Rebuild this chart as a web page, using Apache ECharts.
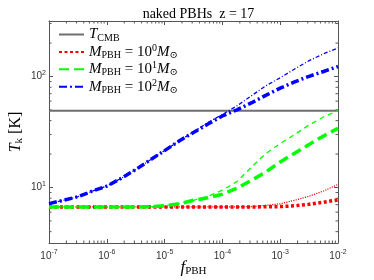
<!DOCTYPE html>
<html><head><meta charset="utf-8">
<script src="https://cdn.jsdelivr.net/npm/echarts@6/dist/echarts.min.js"></script>
<style>html,body{margin:0;padding:0;background:#fff}#c{width:374px;height:280px}</style>
</head><body><div id="c"></div><script>
// ---- data ----
const fPBH = [1e-7, 1.78e-7, 3.16e-7, 5.62e-7, 1e-6, 1.78e-6, 3.16e-6, 5.62e-6, 1e-5, 1.78e-5, 3.16e-5,
              5.62e-5, 1e-4, 1.78e-4, 3.16e-4, 5.62e-4, 1e-3, 1.78e-3, 3.16e-3, 5.62e-3, 1e-2];
const T_CMB = 49.05;
const m0Thick = [6.68, 6.68, 6.68, 6.68, 6.68, 6.68, 6.68, 6.68, 6.68, 6.68, 6.68, 6.68, 6.68, 6.68, 6.68, 6.70, 6.73, 6.84, 7.06, 7.36, 7.74];
const m0Thin  = [6.68, 6.68, 6.68, 6.68, 6.68, 6.68, 6.68, 6.68, 6.68, 6.68, 6.68, 6.68, 6.68, 6.68, 6.72, 6.90, 7.13, 7.67, 8.34, 9.29, 10.66];
const m1Thick = [6.68, 6.68, 6.68, 6.68, 6.68, 6.68, 6.68, 6.70, 6.84, 7.13, 7.67, 8.09, 8.70, 9.86, 11.6, 13.8, 17.0, 20.4, 24.4, 29.1, 34.1];
const m1Thin  = [6.68, 6.68, 6.68, 6.68, 6.68, 6.68, 6.68, 6.70, 6.84, 7.13, 7.67, 8.33, 9.46, 11.3, 15.2, 20.2, 24.9, 30.0, 36.6, 43.2, 49.3];
const m2Thick = [7.16, 7.67, 8.26, 9.27, 10.3, 12.1, 14.5, 17.7, 21.5, 26.2, 31.3, 37.3, 44.1, 50.0, 57.8, 67.6, 78.5, 89.6, 100.4, 111, 123];
const m2Thin  = [7.16, 7.67, 8.26, 9.27, 10.3, 12.1, 14.5, 17.7, 21.5, 26.3, 31.6, 38.5, 45.5, 54.3, 66.9, 82.4, 97.3, 117, 139, 160, 181];
const X_MIN = 1e-7, X_MAX = 1e-2, Y_MIN = 3.1623, Y_MAX = 316.23;
const xMinorTicks = [2e-7,3e-7,4e-7,5e-7,6e-7,7e-7,8e-7,9e-7, 2e-6,3e-6,4e-6,5e-6,6e-6,7e-6,8e-6,9e-6,
  2e-5,3e-5,4e-5,5e-5,6e-5,7e-5,8e-5,9e-5, 2e-4,3e-4,4e-4,5e-4,6e-4,7e-4,8e-4,9e-4, 2e-3,3e-3,4e-3,5e-3,6e-3,7e-3,8e-3,9e-3];
const yMinorTicks = [4,5,6,7,8,9,20,30,40,50,60,70,80,90,200,300];

const SERIF = '"Liberation Serif","DejaVu Serif",serif';
const SANS = '"Liberation Sans",Arial,sans-serif';
const AX = '#555';
const pairs = a => fPBH.map((x, i) => [x, a[i]]);

const legendRich = {
  i: {fontFamily: SERIF, fontStyle: 'italic', fontSize: 15, lineHeight: 17, color: '#000'},
  r: {fontFamily: SERIF, fontSize: 15, lineHeight: 17, color: '#000'},
  s: {fontFamily: SERIF, fontSize: 10, lineHeight: 10, verticalAlign: 'bottom', color: '#000'},
  p: {fontFamily: SERIF, fontSize: 10, lineHeight: 10, verticalAlign: 'top', color: '#000'},
  o: {fontFamily: SERIF, fontSize: 10, lineHeight: 10, verticalAlign: 'bottom', color: '#000'}
};
const legendText = {
  'T_CMB': '{i|T}{s|CMB}',
  'M0': '{i|M}{s|PBH}{r| = 10}{p|0}{i|M}{o|⊙}',
  'M1': '{i|M}{s|PBH}{r| = 10}{p|1}{i|M}{o|⊙}',
  'M2': '{i|M}{s|PBH}{r| = 10}{p|2}{i|M}{o|⊙}'
};
const tickRich = {sup: {fontFamily: SANS, fontSize: 7, padding: [0, 0, 7, 0], color: '#333'}};
const expLabel = v => '10{sup|' + Math.round(Math.log10(v)) + '}';

function axisBase(extra) {
  return Object.assign({
    type: 'log', logBase: 10,
    axisLine: {show: true, onZero: false, lineStyle: {color: AX, width: 1}},
    axisTick: {show: true, inside: true, length: 4, lineStyle: {color: AX}},
    splitLine: {show: false}, minorTick: {show: false}
  }, extra);
}

const chart = echarts.init(document.getElementById('c'), null, {renderer: 'canvas'});
chart.setOption({
  animation: false,
  backgroundColor: '#fff',
  title: {text: 'naked PBHs  z = 17', left: 193.5, top: 2, textAlign: 'center',
    textStyle: {fontFamily: SERIF, fontSize: 14, fontWeight: 'normal', color: '#000'}},
  grid: {left: 49, right: 36, top: 21, bottom: 37, containLabel: false, outerBoundsMode: 'none'},
  legend: {
    orient: 'vertical', left: 58, top: 27, padding: 0, itemWidth: 25, itemHeight: 10, itemGap: 0.4,
    data: ['T_CMB', 'M0', 'M1', 'M2'],
    itemStyle: {opacity: 0, color: 'transparent', borderWidth: 0},
    formatter: n => legendText[n],
    textStyle: {rich: legendRich, fontFamily: SERIF, fontSize: 15}
  },
  xAxis: [
    axisBase({position: 'bottom', min: X_MIN, max: X_MAX,
      axisLabel: {formatter: expLabel, fontFamily: SANS, fontSize: 10, color: '#333', margin: 6, rich: tickRich},
      name: '{i|f}{s|PBH}', nameLocation: 'middle', nameGap: 16, nameMoveOverlap: false,
      nameTextStyle: {rich: {
        i: {fontFamily: SERIF, fontStyle: 'italic', fontSize: 17, lineHeight: 18, color: '#000'},
        s: {fontFamily: SERIF, fontSize: 11, lineHeight: 11, verticalAlign: 'bottom', color: '#000'}}}}),
    axisBase({position: 'top', min: X_MIN, max: X_MAX, axisLabel: {show: false}})
  ],
  yAxis: [
    axisBase({position: 'left', min: Y_MIN, max: Y_MAX,
      axisLabel: {formatter: expLabel, fontFamily: SANS, fontSize: 10, color: '#333', margin: 3, rich: tickRich,
        showMinLabel: false, showMaxLabel: false},
      name: '{i|T}{s|k}{r| [K]}', nameLocation: 'middle', nameGap: 24, nameRotate: 90, nameMoveOverlap: false,
      nameTextStyle: {rich: {
        i: {fontFamily: SERIF, fontStyle: 'italic', fontSize: 16, lineHeight: 18, color: '#000'},
        r: {fontFamily: SERIF, fontSize: 16, lineHeight: 18, color: '#000'},
        s: {fontFamily: SERIF, fontSize: 11, lineHeight: 11, verticalAlign: 'bottom', color: '#000'}}}}),
    axisBase({position: 'right', min: Y_MIN, max: Y_MAX, axisLabel: {show: false}})
  ],
  series: [
    {name: 'T_CMB', type: 'line', symbol: 'none', data: [[X_MIN, T_CMB], [X_MAX, T_CMB]],
      lineStyle: {color: '#6e6e6e', width: 2}, itemStyle: {color: '#6e6e6e'}},
    {name: 'M0', type: 'line', symbol: 'none', data: pairs(m0Thick),
      lineStyle: {color: '#ff0000', width: 3.5, type: [3, 2.5]}, itemStyle: {color: '#ff0000'}},
    {name: 'M0b', type: 'line', symbol: 'none', data: pairs(m0Thin),
      lineStyle: {color: '#ff0000', width: 1.2, type: [1.2, 1.2]}},
    {name: 'M1', type: 'line', symbol: 'none', data: pairs(m1Thick),
      lineStyle: {color: '#00ff00', width: 3.5, type: [10, 5]}, itemStyle: {color: '#00ff00'}},
    {name: 'M1b', type: 'line', symbol: 'none', data: pairs(m1Thin),
      lineStyle: {color: '#00ff00', width: 1.3, type: [5, 4]}},
    {name: 'M2', type: 'line', symbol: 'none', data: pairs(m2Thick),
      lineStyle: {color: '#0000ff', width: 3.5, type: [8, 3, 2, 3]}, itemStyle: {color: '#0000ff'}},
    {name: 'M2b', type: 'line', symbol: 'none', data: pairs(m2Thin),
      lineStyle: {color: '#0000ff', width: 1.3, type: [4, 2, 1, 2]}},
    {name: 'xminor', type: 'custom', silent: true, clip: false, data: xMinorTicks.map(v => [v, Y_MIN]),
      renderItem: (params, api) => {
        const v = api.value(0);
        const pb = api.coord([v, Y_MIN]), pt = api.coord([v, Y_MAX]);
        const st = {stroke: AX, lineWidth: 1};
        return {type: 'group', children: [
          {type: 'line', shape: {x1: pb[0], y1: pb[1], x2: pb[0], y2: pb[1] - 2.5}, style: st},
          {type: 'line', shape: {x1: pt[0], y1: pt[1], x2: pt[0], y2: pt[1] + 2.5}, style: st}]};
      }},
    {name: 'yminor', type: 'custom', silent: true, clip: false, data: yMinorTicks.map(v => [X_MIN, v]),
      renderItem: (params, api) => {
        const v = api.value(1);
        const pl = api.coord([X_MIN, v]), pr = api.coord([X_MAX, v]);
        const st = {stroke: AX, lineWidth: 1};
        return {type: 'group', children: [
          {type: 'line', shape: {x1: pl[0], y1: pl[1], x2: pl[0] + 2.5, y2: pl[1]}, style: st},
          {type: 'line', shape: {x1: pr[0], y1: pr[1], x2: pr[0] - 2.5, y2: pr[1]}, style: st}]};
      }}
  ]
});
</script></body></html>
